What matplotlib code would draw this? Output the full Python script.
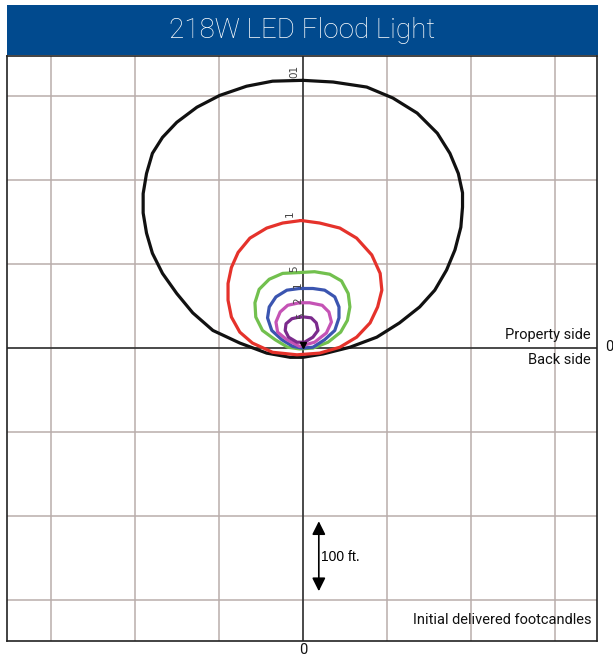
import numpy as np
import matplotlib.pyplot as plt
from matplotlib.patches import Rectangle

# isofootcandle contours, feet from the fixture (x across, y toward property side)
black_x = [0, 36, 76, 107, 136, 160, 175, 185, 190, 190, 188, 181, 171, 157, 139, 115, 88, 56, 24, 0,
           -15, -43, -75, -107, -131, -150, -167, -179, -186, -190, -190, -186, -179, -167, -150, -126, -99, -67, -36, 0]
black_y = [319, 317, 311, 298, 280, 256, 232, 208, 185, 168, 144, 117, 93, 69, 49, 30, 13, 1, -7, -11,
           -11, -6, 6, 21, 42, 65, 89, 113, 137, 161, 184, 208, 232, 251, 269, 287, 301, 312, 318, 319]

red_x = [-2, 20, 44, 64, 82, 92, 94, 89, 80, 64, 44, 20, -7, -36, -60, -75, -85, -89, -89, -85, -77, -63, -43, -24, -2]
red_y = [152, 149, 143, 131, 111, 89, 69, 49, 30, 13, 1, -6, -8, -5, 6, 19, 37, 57, 77, 96, 114, 131, 143, 149, 152]

green_x = [-4, 14, 32, 46, 54, 56, 53, 45, 30, 12, -4, -18, -33, -48, -56, -57, -52, -40, -24, -4]
green_y = [90, 91, 88, 80, 65, 49, 33, 19, 7, 0, -1, 1, 10, 21, 37, 54, 70, 82, 89, 90]

blue_x = [-4, 12, 26, 38, 43, 43, 38, 26, 12, -1, -12, -25, -37, -42, -40, -32, -19, -4]
blue_y = [71, 71, 69, 61, 49, 36, 21, 10, 1, 0, 2, 10, 21, 36, 49, 61, 69, 71]

pink_x = [-4, 8, 23, 31, 34, 28, 14, -4, -19, -30, -32, -27, -18, -4]
pink_y = [54, 54, 51, 43, 31, 18, 7, 2, 10, 19, 31, 43, 51, 54]

purple_x = [-4, 2, 10, 16, 18, 12, 2, -7, -17, -21, -20, -13, -4]
purple_y = [37, 37, 36, 30, 21, 13, 7, 7, 13, 21, 29, 35, 37]

labels = ['01', '1', '5', '1', '2', '5']
label_x = [-10, -15, -10, -6, -6, -2]
label_y = [330, 160, 95, 75, 57, 39]

fig = plt.figure(figsize=(6.13, 6.56), dpi=100)
ax = fig.add_axes([7/613, 1-641/656, 590/613, 585/656])

# title bar
fig.patches.append(Rectangle((7/613, 1-55/656), 591/613, 50/656, transform=fig.transFigure,
                             facecolor='#014a8e', edgecolor='none'))
fig.text(302/613, 1-30/656, '218W LED Flood Light', color='white', ha='center', va='center',
         fontsize=20, family='Roboto', fontweight='light')

for g in [-300, -200, -100, 100, 200, 300]:
    ax.axvline(g, color='#b9adab', lw=1.1, zorder=0)
    ax.axhline(g, color='#b9adab', lw=1.1, zorder=0)
ax.axvline(0, color='#3a3a3a', lw=1.3, zorder=1)
ax.axhline(0, color='#3a3a3a', lw=1.3, zorder=1)

kw = dict(lw=2.3, solid_joinstyle='round', solid_capstyle='round')
ax.plot(black_x, black_y, color='#111111', **kw)
ax.plot(red_x, red_y, color='#e5322b', **kw)
ax.plot(green_x, green_y, color='#72c04e', **kw)
ax.plot(blue_x, blue_y, color='#3b55b0', **kw)
ax.plot(pink_x, pink_y, color='#c553b5', **kw)
ax.plot(purple_x, purple_y, color='#7b2b8c', **kw)
ax.plot([0], [4], marker='v', color='black', ms=5)

for t, lx, ly in zip(labels, label_x, label_y):
    ax.text(lx, ly, t, rotation=90, ha='center', va='center', fontsize=7.5, color='#444444')

# 100 ft scale arrow
ax.annotate('', xy=(19, -203), xytext=(19, -293),
            arrowprops=dict(arrowstyle='<|-|>', color='black', lw=1.2, mutation_scale=20))
ax.text(22, -249, '100 ft.', ha='left', va='center', fontsize=10, color='black',
        family='Liberation Sans')

tkw = dict(fontsize=10.5, family='Roboto', color='#111111')
ax.text(342, 16, 'Property side', ha='right', va='center', **tkw)
ax.text(342, -14, 'Back side', ha='right', va='center', **tkw)
ax.text(344, -324, 'Initial delivered footcandles', ha='right', va='center', **tkw)

fig.text(609/613, 1-347/656, '0', ha='center', va='center', **tkw)
fig.text(303/613, 1-650/656, '0', ha='center', va='center', **tkw)

ax.set_xlim(-352, 350)
ax.set_ylim(-349, 348)
ax.set_xticks([])
ax.set_yticks([])
for s in ax.spines.values():
    s.set_color('#222222')
    s.set_linewidth(1.2)

fig.savefig('out.png', dpi=100)
